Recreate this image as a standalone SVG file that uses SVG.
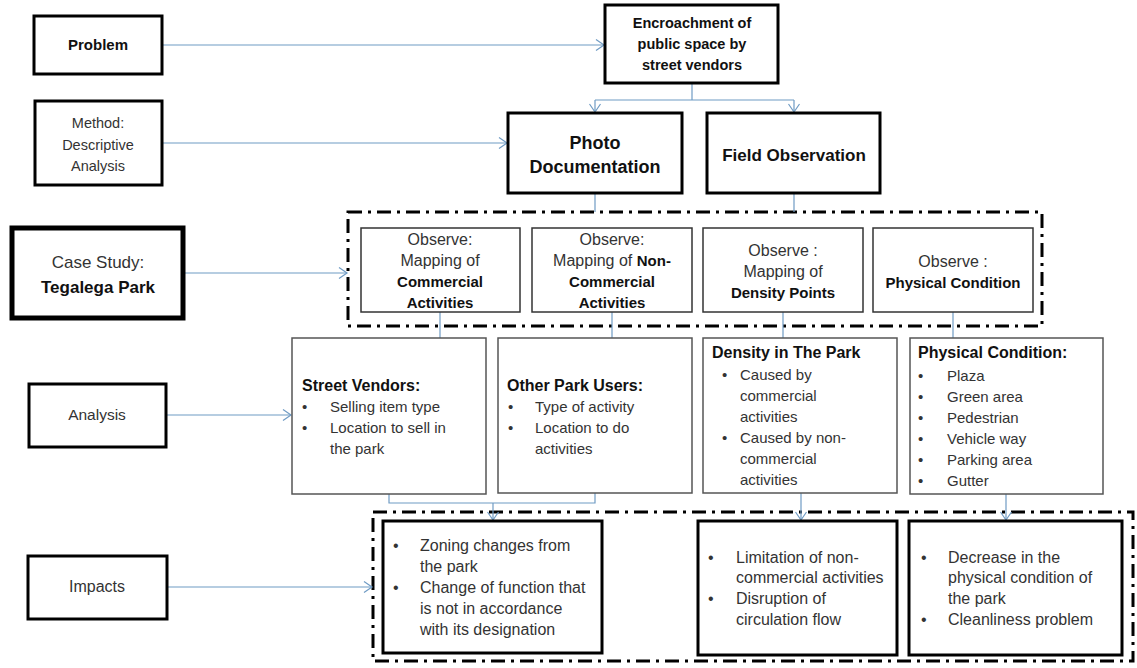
<svg xmlns="http://www.w3.org/2000/svg" width="1137" height="668" viewBox="0 0 1137 668">
<defs>
<marker id="arr" markerUnits="userSpaceOnUse" markerWidth="12" markerHeight="14" refX="9" refY="6" orient="auto">
<path d="M1,0.5 L9,6 L1,11.5" fill="none" stroke="#6f9bc4" stroke-width="1.2"/>
</marker>
<style>
text{font-family:"Liberation Sans",Arial,sans-serif;fill:#333}
.b{font-weight:bold;fill:#111}
.c{text-anchor:middle}
.thick{fill:#fff;stroke:#000;stroke-width:3}
.thin{fill:#fff;stroke:#333;stroke-width:1.5}
.gray{fill:#fff;stroke:#555;stroke-width:1.5}
.dd{fill:none;stroke:#000;stroke-width:3;stroke-dasharray:14 6 3 6}
.con{fill:none;stroke:#6f9bc4;stroke-width:1.2}
.f16{font-size:16px}
.f15{font-size:15px}
</style>
</defs>
<rect width="1137" height="668" fill="#fff"/>

<g id="frames">
<rect class="dd" x="348" y="212" width="694" height="114"/>
<rect class="dd" x="373" y="512" width="760" height="149"/>
</g>

<g id="connectors">
<line class="con" x1="162" y1="45" x2="604" y2="45" marker-end="url(#arr)"/>
<line class="con" x1="162" y1="143" x2="507" y2="143" marker-end="url(#arr)"/>
<line class="con" x1="185" y1="273" x2="347" y2="273" marker-end="url(#arr)"/>
<line class="con" x1="166" y1="415" x2="291" y2="415" marker-end="url(#arr)"/>
<line class="con" x1="167" y1="587" x2="372" y2="587" marker-end="url(#arr)"/>
<polyline class="con" points="692,83 692,100"/>
<polyline class="con" points="595,100 794,100"/>
<line class="con" x1="595" y1="100" x2="595" y2="112" marker-end="url(#arr)"/>
<line class="con" x1="794" y1="100" x2="794" y2="112" marker-end="url(#arr)"/>
<line class="con" x1="595" y1="193" x2="595" y2="212"/>
<line class="con" x1="794" y1="193" x2="794" y2="212"/>
<line class="con" x1="440" y1="312" x2="440" y2="338"/>
<line class="con" x1="612" y1="312" x2="612" y2="338"/>
<line class="con" x1="783" y1="312" x2="783" y2="338"/>
<line class="con" x1="953" y1="312" x2="953" y2="338"/>
<polyline class="con" points="389,494 389,503 595,503 595,493"/>
<line class="con" x1="493" y1="503" x2="493" y2="520" marker-end="url(#arr)"/>
<line class="con" x1="801" y1="493" x2="801" y2="520" marker-end="url(#arr)"/>
<line class="con" x1="1006" y1="494" x2="1006" y2="520" marker-end="url(#arr)"/>
</g>

<g id="problem">
<rect class="thick" x="34" y="16" width="128" height="58"/>
<text class="b c" x="98" y="50" font-size="15">Problem</text>
</g>

<g id="method">
<rect class="thick" x="35" y="101" width="127" height="84"/>
<text class="c" x="98" y="128" font-size="14.5">Method:</text>
<text class="c" x="98" y="150" font-size="14.5">Descriptive</text>
<text class="c" x="98" y="171" font-size="14.5">Analysis</text>
</g>

<g id="encroachment">
<rect class="thick" x="605" y="5" width="173" height="78"/>
<text class="b c" x="692" y="28" font-size="14.5">Encroachment of</text>
<text class="b c" x="692" y="49" font-size="14.5">public space by</text>
<text class="b c" x="692" y="70" font-size="14.5">street vendors</text>
</g>

<g id="photo">
<rect class="thick" x="508" y="113" width="174" height="80"/>
<text class="b c" x="595" y="149" font-size="18">Photo</text>
<text class="b c" x="595" y="173" font-size="18">Documentation</text>
</g>

<g id="field">
<rect class="thick" x="707" y="113" width="173" height="80"/>
<text class="b c" x="794" y="161" font-size="17">Field Observation</text>
</g>

<g id="casestudy">
<rect x="12" y="228" width="171" height="90" fill="#fff" stroke="#000" stroke-width="5"/>
<text class="c" x="98" y="268" font-size="17">Case Study:</text>
<text class="b c" x="98" y="293" font-size="17">Tegalega Park</text>
</g>

<g id="obs1">
<rect class="thin" x="361" y="228" width="159" height="84"/>
<text class="c f16" x="440" y="245">Observe:</text>
<text class="c f16" x="440" y="266">Mapping of</text>
<text class="b c f15" x="440" y="287">Commercial</text>
<text class="b c f15" x="440" y="308">Activities</text>
</g>

<g id="obs2">
<rect class="thin" x="532" y="228" width="160" height="84"/>
<text class="c f16" x="612" y="245">Observe:</text>
<text class="c f16" x="612" y="266">Mapping of <tspan class="b" font-size="15">Non-</tspan></text>
<text class="b c f15" x="612" y="287">Commercial</text>
<text class="b c f15" x="612" y="308">Activities</text>
</g>

<g id="obs3">
<rect class="thin" x="703" y="228" width="160" height="84"/>
<text class="c f16" x="783" y="256">Observe :</text>
<text class="c f16" x="783" y="277">Mapping of</text>
<text class="b c f15" x="783" y="298">Density Points</text>
</g>

<g id="obs4">
<rect class="thin" x="873" y="228" width="160" height="84"/>
<text class="c f16" x="953" y="267">Observe :</text>
<text class="b c f15" x="953" y="288">Physical Condition</text>
</g>

<g id="analysis">
<rect class="thick" x="29" y="384" width="137" height="63"/>
<text class="c" x="97" y="420" font-size="15.5">Analysis</text>
</g>

<g id="vendors">
<rect class="gray" x="292" y="338" width="194" height="156"/>
<text class="b f16" x="302" y="391">Street Vendors:</text>
<text class="f15" x="302" y="412">•</text><text class="f15" x="330" y="412">Selling item type</text>
<text class="f15" x="302" y="433">•</text><text class="f15" x="330" y="433">Location to sell in</text>
<text class="f15" x="330" y="454">the park</text>
</g>

<g id="users">
<rect class="gray" x="498" y="338" width="194" height="155"/>
<text class="b f16" x="507" y="391">Other Park Users:</text>
<text class="f15" x="508" y="412">•</text><text class="f15" x="535" y="412">Type of activity</text>
<text class="f15" x="508" y="433">•</text><text class="f15" x="535" y="433">Location to do</text>
<text class="f15" x="535" y="454">activities</text>
</g>

<g id="density">
<rect class="gray" x="703" y="338" width="194" height="155"/>
<text class="b f16" x="712" y="358">Density in The Park</text>
<text class="f15" x="722" y="380">•</text><text class="f15" x="740" y="380">Caused by</text>
<text class="f15" x="740" y="401">commercial</text>
<text class="f15" x="740" y="422">activities</text>
<text class="f15" x="722" y="443">•</text><text class="f15" x="740" y="443">Caused by non-</text>
<text class="f15" x="740" y="464">commercial</text>
<text class="f15" x="740" y="485">activities</text>
</g>

<g id="physical">
<rect class="gray" x="910" y="338" width="193" height="156"/>
<text class="b f16" x="918" y="358">Physical Condition:</text>
<text class="f15" x="918" y="381">•</text><text class="f15" x="947" y="381">Plaza</text>
<text class="f15" x="918" y="402">•</text><text class="f15" x="947" y="402">Green area</text>
<text class="f15" x="918" y="423">•</text><text class="f15" x="947" y="423">Pedestrian</text>
<text class="f15" x="918" y="444">•</text><text class="f15" x="947" y="444">Vehicle way</text>
<text class="f15" x="918" y="465">•</text><text class="f15" x="947" y="465">Parking area</text>
<text class="f15" x="918" y="486">•</text><text class="f15" x="947" y="486">Gutter</text>
</g>

<g id="impacts">
<rect class="thick" x="28" y="556" width="139" height="63"/>
<text class="c f16" x="97" y="592">Impacts</text>
</g>

<g id="impactA">
<rect class="thick" x="383" y="521" width="219" height="132"/>
<text class="f16" x="393" y="551">•</text><text class="f16" x="420" y="551">Zoning changes from</text>
<text class="f16" x="420" y="572">the park</text>
<text class="f16" x="393" y="593">•</text><text class="f16" x="420" y="593">Change of function that</text>
<text class="f16" x="420" y="614">is not in accordance</text>
<text class="f16" x="420" y="635">with its designation</text>
</g>

<g id="impactB">
<rect class="thick" x="698" y="521" width="199" height="134"/>
<text class="f16" x="708" y="563">•</text><text class="f16" x="736" y="563">Limitation of non-</text>
<text class="f16" x="736" y="583">commercial activities</text>
<text class="f16" x="708" y="604">•</text><text class="f16" x="736" y="604">Disruption of</text>
<text class="f16" x="736" y="625">circulation flow</text>
</g>

<g id="impactC">
<rect class="thick" x="909" y="521" width="213" height="134"/>
<text class="f16" x="921" y="563">•</text><text class="f16" x="948" y="563">Decrease in the</text>
<text class="f16" x="948" y="583">physical condition of</text>
<text class="f16" x="948" y="604">the park</text>
<text class="f16" x="921" y="625">•</text><text class="f16" x="948" y="625">Cleanliness problem</text>
</g>
</svg>
